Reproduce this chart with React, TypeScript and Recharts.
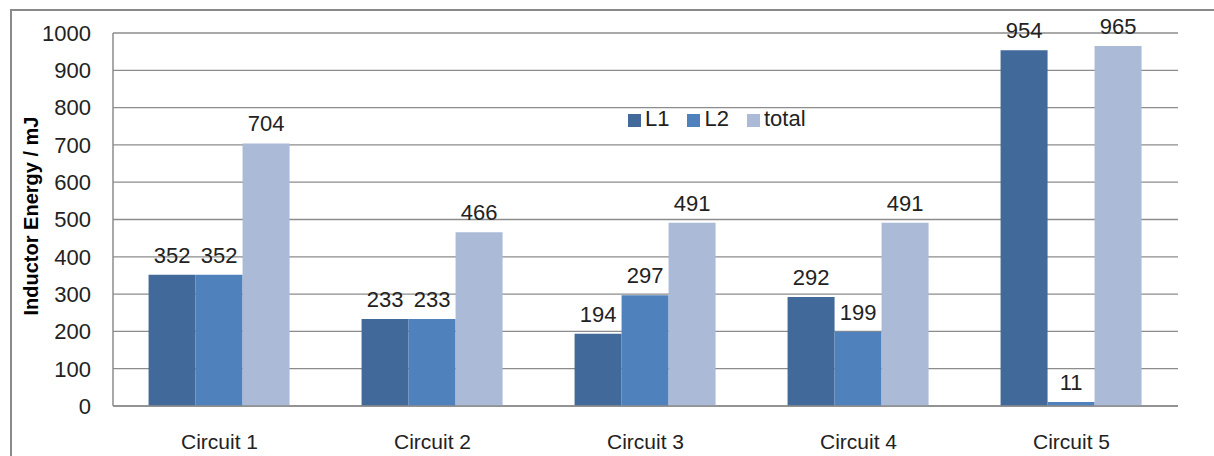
import { BarChart, Bar, XAxis, YAxis, CartesianGrid, Legend, LabelList } from "recharts"

const circuits = ["Circuit 1", "Circuit 2", "Circuit 3", "Circuit 4", "Circuit 5"]
const l1Values = [352, 233, 194, 292, 954]
const l2Values = [352, 233, 297, 199, 11]
const totalValues = [704, 466, 491, 491, 965]
const yTicks = [0, 100, 200, 300, 400, 500, 600, 700, 800, 900, 1000]

const data = circuits.map((name, i) => ({
  name,
  L1: l1Values[i],
  L2: l2Values[i],
  total: totalValues[i],
}))

const font = "'Liberation Sans', Arial, sans-serif"

export default function App() {
  return (
    <div style={{ position: "absolute", left: 0, top: 0, width: 1214, height: 456, overflow: "hidden", background: "#fff" }}>
      <div
        style={{
          position: "absolute",
          left: 10,
          top: 9,
          width: 1300,
          height: 600,
          borderLeft: "2px solid #8a8a8a",
          borderTop: "2px solid #8a8a8a",
        }}
      />
      <div
        style={{
          position: "absolute",
          left: 31,
          top: 216,
          transform: "translate(-50%, -50%) rotate(-90deg)",
          fontFamily: font,
          fontWeight: "bold",
          fontSize: 20,
          whiteSpace: "nowrap",
          color: "#000",
        }}
      >
        Inductor Energy / mJ
      </div>
      <BarChart
        width={1214}
        height={456}
        data={data}
        margin={{ top: 33, right: 36, bottom: 0, left: 53 }}
        barCategoryGap="16.7%"
        barGap={0}
        style={{ position: "absolute", left: 0, top: 0, fontFamily: font }}
      >
        <CartesianGrid vertical={false} stroke="#8c8c8c" strokeWidth={1.3} />
        <XAxis
          dataKey="name"
          height={50}
          tickLine={false}
          tickSize={0}
          tickMargin={28}
          axisLine={{ stroke: "#8c8c8c", strokeWidth: 1.5 }}
          tick={{ fill: "#222", fontSize: 21 }}
        />
        <YAxis
          width={60}
          domain={[0, 1000]}
          ticks={yTicks}
          interval={0}
          tickLine={false}
          tickSize={0}
          tickMargin={22}
          axisLine={{ stroke: "#8c8c8c", strokeWidth: 1.5 }}
          tick={{ fill: "#222", fontSize: 22 }}
        />
        <Legend
          layout="horizontal"
          align="center"
          verticalAlign="middle"
          iconType="square"
          iconSize={13}
          wrapperStyle={{ position: "absolute", left: 628, top: 106, width: "auto", fontSize: 22 }}
          formatter={(value) => <span style={{ color: "#222", marginRight: 8 }}>{value}</span>}
        />
        <Bar dataKey="L1" fill="#41699A" isAnimationActive={false}>
          <LabelList dataKey="L1" position="top" offset={12} fill="#222" fontSize={22} />
        </Bar>
        <Bar dataKey="L2" fill="#4F81BD" isAnimationActive={false}>
          <LabelList dataKey="L2" position="top" offset={12} fill="#222" fontSize={22} />
        </Bar>
        <Bar dataKey="total" fill="#AABAD7" isAnimationActive={false}>
          <LabelList dataKey="total" position="top" offset={12} fill="#222" fontSize={22} />
        </Bar>
      </BarChart>
    </div>
  )
}
